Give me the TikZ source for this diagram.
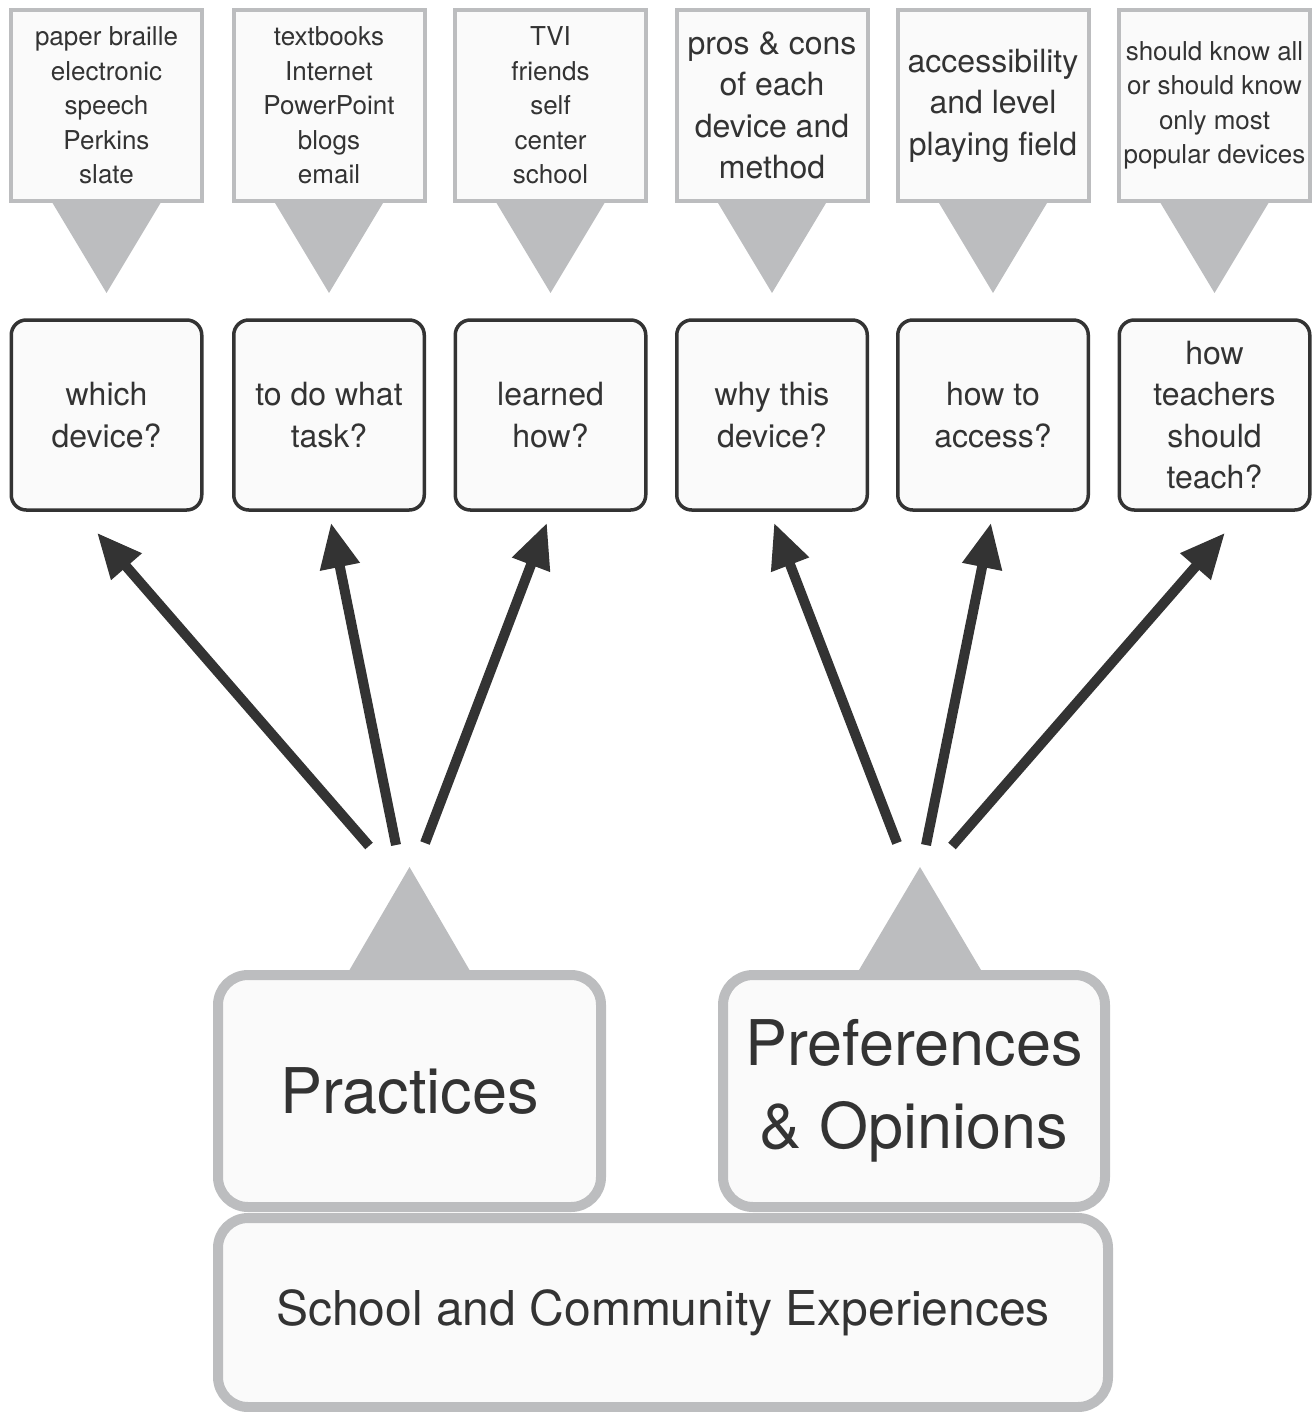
\documentclass[tikz,border=0pt]{standalone}
\usepackage{fontspec}
\setmainfont{TeX Gyre Heros}
\usetikzlibrary{arrows.meta}
\definecolor{boxgray}{HTML}{BCBDBF}
\definecolor{boxfill}{HTML}{FAFAFA}
\definecolor{ink}{HTML}{333333}
\def\smalltext{\fontsize{26}{34.5}\selectfont}
\def\midtext{\fontsize{32}{41.5}\selectfont}
\def\bigtext{\fontsize{63}{83}\selectfont}
\def\basetext{\fontsize{48}{58}\selectfont}
\tikzset{
  topic/.style={draw=boxgray, line width=4pt, fill=boxfill, text=ink, align=center,
    inner sep=0pt, minimum width=191pt, minimum height=191pt},
  question/.style={draw=ink, line width=3.5pt, rounded corners=15pt, fill=boxfill,
    text=ink, align=center, font=\midtext, inner sep=0pt,
    minimum width=190.5pt, minimum height=190pt},
  basebox/.style={draw=boxgray, line width=10pt, rounded corners=30pt, fill=boxfill,
    text=ink, align=center, inner sep=0pt},
  pointer/.style={fill=boxgray},
  link/.style={draw=ink, line width=10pt, -{Triangle[length=45pt,width=38pt]}}
}

\begin{document}
\begin{tikzpicture}[x=1pt,y=-1pt]
\useasboundingbox (0,0) rectangle (1315,1412);

% answers
\node[topic, font=\smalltext] (T1) at (106.5,105.5) {paper braille\\electronic\\speech\\Perkins\\slate};
\node[topic, font=\smalltext] (T2) at (329,105.5) {textbooks\\Internet\\PowerPoint\\blogs\\email};
\node[topic, font=\smalltext] (T3) at (550.5,105.5) {TVI\\friends\\self\\center\\school};
\node[topic, font=\midtext] (T4) at (772,105.5) {pros \& cons\\of each\\device and\\method};
\node[topic, font=\midtext] (T5) at (993,105.5) {accessibility\\and level\\playing field};
\node[topic, font=\smalltext] (T6) at (1214.5,105.5) {should know all\\or should know\\only most\\popular devices};

\foreach \i in {1,...,6}{
	\fill[pointer] ([xshift=-54pt]T\i.south) -- ([xshift=54pt]T\i.south) -- ([yshift=-90pt]T\i.south) -- cycle;
}

% questions
\node[question] (Q1) at (106.5,415) {which\\device?};
\node[question] (Q2) at (329,415) {to do what\\task?};
\node[question] (Q3) at (550.5,415) {learned\\how?};
\node[question] (Q4) at (772,415) {why this\\device?};
\node[question] (Q5) at (993,415) {how to\\access?};
\node[question] (Q6) at (1214.5,415) {how\\teachers\\should\\teach?};

% the two groups and what they rest on
\node[basebox, font=\bigtext, minimum width=383pt, minimum height=232pt] (P) at (409.5,1091) {Practices};
\node[basebox, font=\bigtext, minimum width=382pt, minimum height=232pt] (O) at (914,1091) {Preferences\\\& Opinions};
\node[basebox, font=\basetext, minimum width=890pt, minimum height=189pt] (S) at (663,1312.5) {School and Community Experiences};

\fill[pointer] ([xshift=-60pt]P.north) -- ([xshift=60pt]P.north) -- ([yshift=103pt]P.north) -- cycle;
\fill[pointer] ([xshift=-55pt]O.north) -- ([xshift=67pt]O.north) -- ([xshift=6pt,yshift=103pt]O.north) -- cycle;

% arrows up to the questions
\coordinate (B1) at (369,846);
\coordinate (B2) at (396,845);
\coordinate (B3) at (425,843);
\coordinate (B4) at (897,843);
\coordinate (B5) at (926,845);
\coordinate (B6) at (952,846);

\foreach \i/\dx/\dy in {1/-9.5/-21, 2/2/-11, 3/-3.5/-11, 4/2/-11, 5/-2/-11, 6/10.5/-21}{
	\draw[link] (B\i) -- ([xshift=\dx pt,yshift=\dy pt]Q\i.south);
}
\end{tikzpicture}
\end{document}
